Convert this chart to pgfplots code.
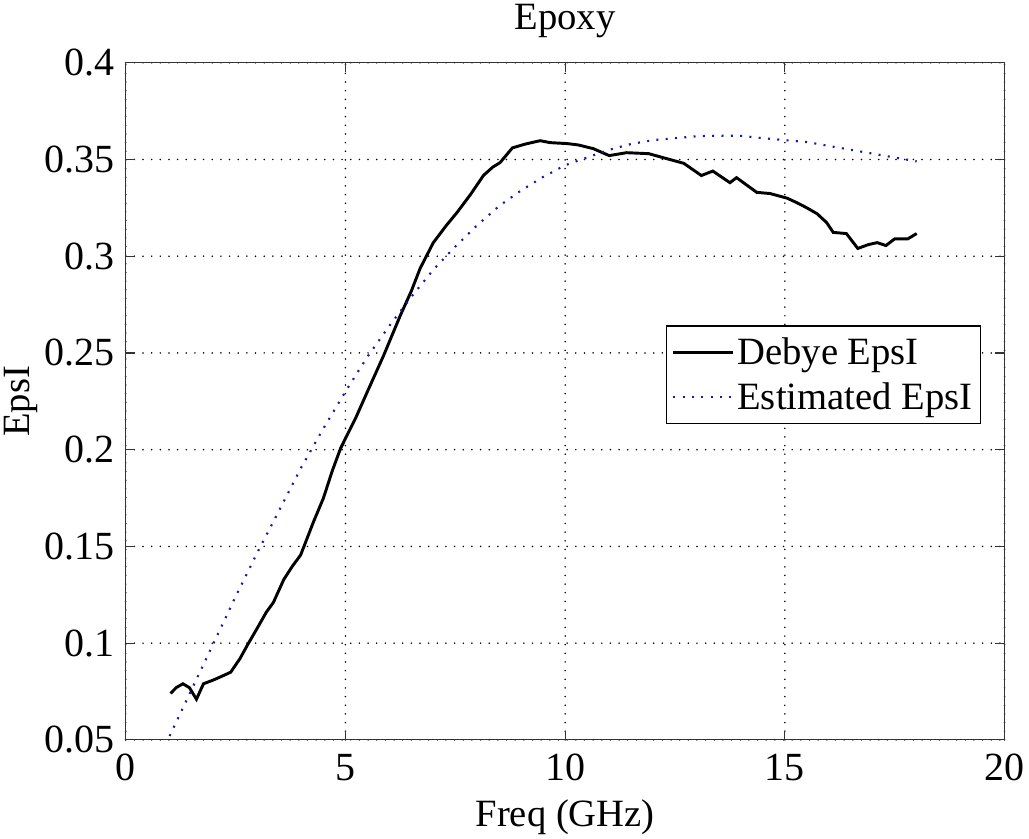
\documentclass[border=0pt]{standalone}
\usepackage{pgfplots}
\pgfplotsset{compat=1.18}
\usepackage{fontspec}
\setmainfont{Liberation Serif}

\definecolor{estblue}{rgb}{0.1,0.1,0.65}

\begin{document}
\begin{tikzpicture}
\begin{axis}[
    width=660pt, height=508.5pt,
    scale only axis,
    xmin=0, xmax=20, ymin=0.05, ymax=0.4,
    xtick={0,5,...,20},
    ytick={0.05,0.1,...,0.41},
    /pgf/number format/assume math mode=true,
    /pgf/number format/.cd, fixed, precision=2, /pgfplots/.cd,
    tick label style={font=\fontsize{30}{34}\selectfont},
    xticklabel style={yshift=-7pt},
    yticklabel style={xshift=-5pt},
    label style={font=\fontsize{29}{33}\selectfont},
    title style={font=\fontsize{29}{33}\selectfont, yshift=9pt},
    title={Epoxy},
    xlabel={Freq (GHz)},
    ylabel={EpsI},
    xlabel style={yshift=-7pt},
    ylabel style={yshift=-2pt},
    grid=major,
    grid style={black, line width=1.3pt, dash pattern=on 0pt off 6.5pt, line cap=round},
    axis line style={black!80, line width=0.9pt},
    tick style={black!80, line width=0.9pt},
    tick align=inside,
    major tick length=7pt,
    legend style={at={(rel axis cs:0.973,0.612)}, anchor=north east,
        font=\fontsize{29}{33}\selectfont, draw=black, line width=0.9pt,
        row sep=8pt, inner xsep=4pt, inner ysep=7pt},
    legend image code/.code={\draw[#1] (0pt,0pt) -- (45pt,0pt);},
    legend cell align=left,
]
\addplot[black, line width=2.2pt] coordinates {
(1.02,0.074) (1.15,0.077) (1.3,0.079) (1.45,0.077) (1.61,0.071) (1.77,0.079)
(2.0,0.081) (2.2,0.083) (2.39,0.085) (2.6,0.092) (2.77,0.099) (3.0,0.108)
(3.2,0.116) (3.36,0.121) (3.6,0.133) (3.8,0.140) (3.98,0.1455) (4.27,0.1625)
(4.5,0.175) (4.7,0.189) (4.89,0.2007) (5.23,0.2162) (5.5,0.230) (5.87,0.2487)
(6.25,0.2694) (6.5,0.282) (6.7,0.2937) (7.0,0.307) (7.3,0.316) (7.54,0.3226)
(7.85,0.332) (8.14,0.3417) (8.35,0.346) (8.52,0.3484) (8.8,0.356)
(9.1,0.358) (9.43,0.3597) (9.66,0.3587) (10.05,0.3582) (10.3,0.3575)
(10.64,0.3556) (11.0,0.352) (11.4,0.3535) (11.9,0.353) (12.3,0.3505)
(12.7,0.348) (13.1,0.3417) (13.36,0.344) (13.75,0.338) (13.9,0.3406)
(14.36,0.333) (14.66,0.3324) (15.05,0.330) (15.27,0.3277) (15.5,0.325)
(15.73,0.322) (15.95,0.3174) (16.1,0.3123) (16.4,0.3117) (16.66,0.304)
(16.9,0.306) (17.1,0.307) (17.3,0.3055) (17.5,0.309) (17.8,0.309) (18.0,0.3117)
};
\addlegendentry{Debye EpsI}
\addplot[estblue, line width=1.6pt, dash pattern=on 1.5pt off 5.5pt] coordinates {
(1,0.052) (1.5,0.076) (2,0.100) (2.5,0.124) (3,0.147) (3.5,0.169) (4,0.191)
(4.5,0.211) (5,0.230) (5.5,0.248) (6,0.264) (6.5,0.279) (7,0.293) (7.5,0.305)
(8,0.316) (8.5,0.326) (9,0.334) (9.5,0.341) (10,0.347) (10.5,0.351)
(11,0.355) (11.5,0.358) (12,0.360) (12.5,0.361) (13,0.362) (13.5,0.3623)
(14,0.3622) (14.5,0.361) (15,0.360) (15.5,0.359) (16,0.357) (16.5,0.355)
(17,0.353) (17.5,0.351) (18,0.349)
};
\addlegendentry{Estimated EpsI}
\end{axis}
\end{tikzpicture}
\end{document}
